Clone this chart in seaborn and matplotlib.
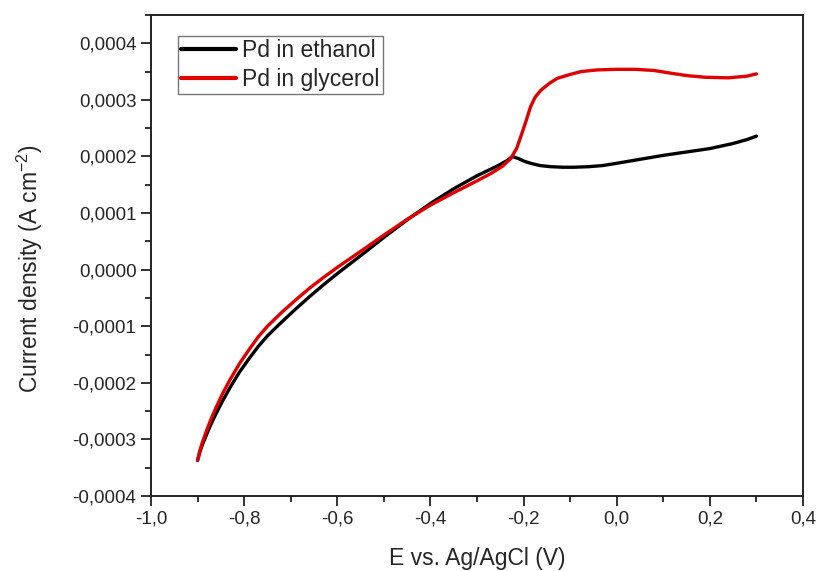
import matplotlib
matplotlib.use("Agg")
import matplotlib.pyplot as plt
import seaborn as sns
import pandas as pd
from matplotlib.ticker import MultipleLocator, FuncFormatter

# ---- data ----
ethanol_E = [-0.900, -0.895, -0.890, -0.880, -0.870, -0.860, -0.845, -0.830, -0.810, -0.790,
             -0.770, -0.750, -0.720, -0.690, -0.660, -0.630, -0.600, -0.570, -0.540, -0.500,
             -0.450, -0.400, -0.350, -0.300, -0.257, -0.235, -0.224,
             -0.210, -0.200, -0.185, -0.165, -0.142, -0.115, -0.092, -0.060, -0.030, 0.000,
             0.050, 0.100, 0.150, 0.200, 0.250, 0.280, 0.300]
ethanol_j = [-0.000337, -0.000322, -0.000310, -0.000290, -0.000271, -0.000254, -0.000230, -0.000208,
             -0.000181, -0.000158, -0.000136, -0.000117, -0.000093, -0.000070, -0.000048, -0.000027,
             -0.000007, 0.000012, 0.000031, 0.000057, 0.000088, 0.000117, 0.000143, 0.000166,
             0.000183, 0.000193, 0.000200,
             0.000196, 0.000192, 0.000188, 0.000184, 0.000182, 0.000181, 0.000181, 0.000182,
             0.000184, 0.000188, 0.000195, 0.000202, 0.000208, 0.000214, 0.000223, 0.000230,
             0.000236]

glycerol_E = [-0.900, -0.895, -0.890, -0.880, -0.870, -0.860, -0.845, -0.830, -0.810, -0.790,
              -0.770, -0.750, -0.720, -0.690, -0.660, -0.630, -0.600, -0.570, -0.540, -0.500,
              -0.450, -0.400, -0.350, -0.300, -0.270, -0.245, -0.228, -0.215,
              -0.206, -0.195, -0.185, -0.175, -0.163, -0.145, -0.128, -0.100, -0.077, -0.042,
              0.000, 0.040, 0.080, 0.110, 0.150, 0.190, 0.240, 0.280, 0.300]
glycerol_j = [-0.000337, -0.000320, -0.000306, -0.000283, -0.000262, -0.000243, -0.000217, -0.000194,
              -0.000166, -0.000142, -0.000119, -0.000100, -0.000076, -0.000054, -0.000033, -0.000014,
              0.000004, 0.000021, 0.000038, 0.000061, 0.000089, 0.000114, 0.000136, 0.000157,
              0.000170, 0.000183, 0.000196, 0.000214,
              0.000235, 0.000262, 0.000288, 0.000305, 0.000317, 0.000329, 0.000338, 0.000345,
              0.000350, 0.000353, 0.000354, 0.000354, 0.000352, 0.000348, 0.000343, 0.000340,
              0.000339, 0.000342, 0.000346]

labels = ["Pd in ethanol", "Pd in glycerol"]
colors = ["#000000", "#e00000"]

df = pd.concat([
    pd.DataFrame({"E": ethanol_E, "j": ethanol_j, "series": labels[0]}),
    pd.DataFrame({"E": glycerol_E, "j": glycerol_j, "series": labels[1]}),
], ignore_index=True)

sns.set_style("ticks")
plt.rcParams["font.family"] = ["Liberation Sans", "DejaVu Sans"]
plt.rcParams["mathtext.fontset"] = "custom"
plt.rcParams["mathtext.rm"] = "Liberation Sans"

fig = plt.figure(figsize=(8.17, 5.71), dpi=100)
ax = fig.add_axes([0.1848, 0.1313, 0.7981, 0.8424])

sns.lineplot(data=df, x="E", y="j", hue="series", palette=dict(zip(labels, colors)),
             sort=False, estimator=None, linewidth=2.4, ax=ax)
for ln in ax.get_lines():
    ln.set_solid_capstyle("round")
    ln.set_solid_joinstyle("round")

ax.set_xlim(-1.0, 0.4)
ax.set_ylim(-0.0004, 0.00045)
ax.xaxis.set_major_locator(MultipleLocator(0.2))
ax.xaxis.set_minor_locator(MultipleLocator(0.1))
ax.yaxis.set_major_locator(MultipleLocator(0.0001))
ax.yaxis.set_minor_locator(MultipleLocator(0.00005))

def fx(v, pos):
    if abs(v) < 1e-9:
        v = 0.0
    return f"{v:.1f}".replace(".", ",")

def fy(v, pos):
    if abs(v) < 1e-12:
        v = 0.0
    return f"{v:.4f}".replace(".", ",")

ax.xaxis.set_major_formatter(FuncFormatter(fx))
ax.yaxis.set_major_formatter(FuncFormatter(fy))

ax.tick_params(axis="both", which="major", direction="out", length=7, width=1.3,
               labelsize=13.5, top=False, right=False, color="#222222")
ax.tick_params(axis="both", which="minor", direction="out", length=4, width=1.3,
               top=False, right=False, color="#222222")
for s in ax.spines.values():
    s.set_linewidth(1.4)
    s.set_color("#222222")

ax.set_xlabel("E vs. Ag/AgCl (V)", fontsize=16.5, labelpad=14)
ax.set_ylabel("Current density (A cm$^{-2}$)", fontsize=16.5)
ax.yaxis.set_label_coords(-0.163, 0.472)

leg = ax.legend(loc="upper left", bbox_to_anchor=(0.041, 0.957), borderaxespad=0,
                fontsize=16.5, frameon=True, fancybox=False, edgecolor="#777777",
                framealpha=1, borderpad=0.15, labelspacing=0.25, handlelength=2.4,
                handletextpad=0.25, title=None)
leg.get_frame().set_linewidth(1.0)
for h in leg.get_lines():
    h.set_linewidth(3)

fig.savefig("out.png", dpi=100)
